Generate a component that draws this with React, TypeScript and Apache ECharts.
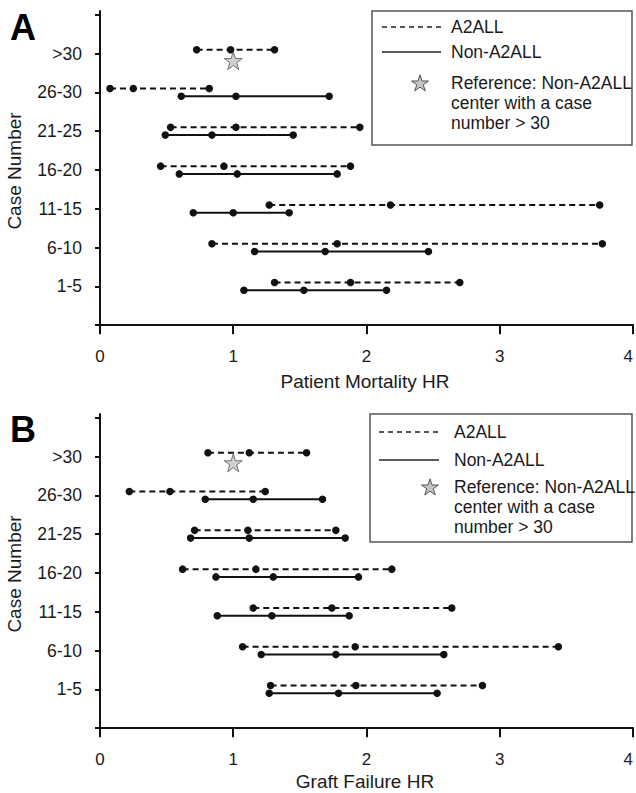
import React, { useEffect, useRef } from "react";
import * as echarts from "echarts";

const categories = ["1-5", "6-10", "11-15", "16-20", "21-25", "26-30", ">30"];
const xTicks = [0, 1, 2, 3, 4];
const yTicks = [0, 1, 2, 3, 4, 5, 6, 7, 8];

// [lower, estimate, upper] per category (1-5 ... >30)
const mortalityA2ALL: number[][] = [
  [1.31, 1.88, 2.7],
  [0.84, 1.78, 3.77],
  [1.27, 2.18, 3.75],
  [0.455, 0.93, 1.88],
  [0.53, 1.02, 1.95],
  [0.075, 0.25, 0.82],
  [0.725, 0.98, 1.31],
];
const mortalityNonA2ALL: (number[] | null)[] = [
  [1.08, 1.53, 2.15],
  [1.16, 1.69, 2.465],
  [0.7, 1.0, 1.42],
  [0.595, 1.03, 1.78],
  [0.49, 0.84, 1.45],
  [0.61, 1.02, 1.72],
  null,
];
const graftA2ALL: number[][] = [
  [1.28, 1.92, 2.87],
  [1.07, 1.915, 3.44],
  [1.15, 1.74, 2.64],
  [0.62, 1.17, 2.19],
  [0.71, 1.11, 1.77],
  [0.22, 0.525, 1.24],
  [0.81, 1.12, 1.55],
];
const graftNonA2ALL: (number[] | null)[] = [
  [1.27, 1.79, 2.53],
  [1.21, 1.77, 2.58],
  [0.88, 1.29, 1.87],
  [0.87, 1.3, 1.94],
  [0.68, 1.12, 1.84],
  [0.79, 1.15, 1.67],
  null,
];
const referenceHR = 1.0;

const FONT = "'Liberation Sans', Arial, sans-serif";
const TXT = "#1a1a1a";
const STAR_PTS: number[][] = [
  [50, 2], [61.8, 38.2], [99.9, 38.2], [69.1, 60.6], [80.9, 96.8],
  [50, 74.4], [19.1, 96.8], [30.9, 60.6], [0.1, 38.2], [38.2, 38.2],
];
const STAR_PATH =
  "path://" + STAR_PTS.map((p, i) => (i === 0 ? "M" : "L") + p[0] + " " + p[1]).join(" ") + " Z";

function starPolygon(cx: number, cy: number, size: number) {
  return {
    type: "polygon",
    shape: { points: STAR_PTS.map(([px, py]) => [cx + ((px - 50) / 100) * size, cy + ((py - 50) / 100) * size]) },
    style: { fill: "#c4c4c4", stroke: "#555", lineWidth: 1 },
  };
}

function legend(x: number, y: number, w: number, h: number, lx1: number, lx2: number, tx: number, rows: number[], starX: number, textRows: number[]) {
  const ts = { fontSize: 17.5, fontFamily: FONT, fill: TXT, verticalAlign: "middle" };
  return [
    { type: "rect", shape: { x, y, width: w, height: h }, style: { fill: "#fff", stroke: "#555", lineWidth: 1.5 } },
    { type: "line", shape: { x1: lx1, y1: rows[0], x2: lx2, y2: rows[0] }, style: { stroke: "#222", lineWidth: 1.5, lineDash: [5, 4] } },
    { type: "text", x: tx, y: rows[0], style: { ...ts, text: "A2ALL" } },
    { type: "line", shape: { x1: lx1, y1: rows[1], x2: lx2, y2: rows[1] }, style: { stroke: "#222", lineWidth: 1.5 } },
    { type: "text", x: tx, y: rows[1], style: { ...ts, text: "Non-A2ALL" } },
    starPolygon(starX, textRows[0], 17),
    { type: "text", x: tx, y: textRows[0], style: { ...ts, text: "Reference: Non-A2ALL" } },
    { type: "text", x: tx, y: textRows[1], style: { ...ts, text: "center with a case" } },
    { type: "text", x: tx, y: textRows[2], style: { ...ts, text: "number > 30" } },
  ];
}

function makeSeries(data: (number[] | null)[], offset: number, dashed: boolean, axis: number) {
  const out: any[] = [];
  data.forEach((row, i) => {
    if (!row) return;
    const y = i + 1 + offset;
    out.push({
      type: "line",
      name: (dashed ? "A2ALL " : "Non-A2ALL ") + categories[i],
      xAxisIndex: axis,
      yAxisIndex: axis,
      data: row.map((v) => [v, y]),
      symbol: "circle",
      symbolSize: 7.5,
      itemStyle: { color: "#111" },
      lineStyle: { color: "#111", width: 2, type: dashed ? [6, 4] : "solid" },
      z: 3,
    });
  });
  return out;
}

function xAxis(grid: number, name: string, gap: number) {
  return {
    type: "value",
    gridIndex: grid,
    min: -0.0225,
    max: 4,
    name,
    nameLocation: "middle",
    nameGap: gap,
    nameTextStyle: { fontSize: 19, color: TXT, fontFamily: FONT },
    axisLine: { show: true, lineStyle: { color: "#111", width: 2 } },
    axisTick: { show: true, customValues: xTicks, length: 9, lineStyle: { color: "#111", width: 2 } },
    axisLabel: { customValues: xTicks, fontSize: 17, color: TXT, fontFamily: FONT, margin: 17, alignMaxLabel: "right" },
    splitLine: { show: false },
  };
}

function yAxis(grid: number) {
  return {
    type: "value",
    gridIndex: grid,
    min: -0.15,
    max: 8.1,
    name: "Case Number",
    nameLocation: "middle",
    nameGap: 73,
    nameRotate: 90,
    nameTextStyle: { fontSize: 19, color: TXT, fontFamily: FONT },
    axisLine: { show: true, lineStyle: { color: "#111", width: 2 } },
    axisTick: { show: true, customValues: yTicks, length: 5, lineStyle: { color: "#111", width: 2 } },
    axisLabel: {
      customValues: yTicks,
      fontSize: 17.5,
      color: TXT,
      fontFamily: FONT,
      margin: 15,
      formatter: (v: number) => (v >= 1 && v <= 7 ? categories[Math.round(v) - 1] : ""),
    },
    splitLine: { show: false },
  };
}

export default function App() {
  const ref = useRef<HTMLDivElement>(null);
  useEffect(() => {
    if (!ref.current) return;
    const chart = echarts.init(ref.current, null, { renderer: "svg" });
    const option: any = {
      animation: false,
      backgroundColor: "#fff",
      grid: [
        { left: 97, top: 11, width: 536, height: 320, containLabel: false, outerBoundsMode: "none" },
        { left: 97, top: 414, width: 536, height: 320, containLabel: false, outerBoundsMode: "none" },
      ],
      xAxis: [xAxis(0, "Patient Mortality HR", 41), xAxis(1, "Graft Failure HR", 38)],
      yAxis: [yAxis(0), yAxis(1)],
      series: [
        ...makeSeries(mortalityA2ALL, 0.1, true, 0),
        ...makeSeries(mortalityNonA2ALL, -0.1, false, 0),
        ...makeSeries(graftA2ALL, 0.1, true, 1),
        ...makeSeries(graftNonA2ALL, -0.1, false, 1),
        {
          type: "scatter",
          name: "Reference A",
          xAxisIndex: 0,
          yAxisIndex: 0,
          data: [[referenceHR, 7 - 0.18]],
          symbol: STAR_PATH,
          symbolSize: 18,
          itemStyle: { color: "#c4c4c4", borderColor: "#555", borderWidth: 1 },
          z: 4,
        },
        {
          type: "scatter",
          name: "Reference B",
          xAxisIndex: 1,
          yAxisIndex: 1,
          data: [[referenceHR, 7 - 0.16]],
          symbol: STAR_PATH,
          symbolSize: 18,
          itemStyle: { color: "#c4c4c4", borderColor: "#555", borderWidth: 1 },
          z: 4,
        },
      ],
      graphic: [
        { type: "text", x: 10, y: 27, style: { text: "A", fontSize: 36, fontWeight: "bold", fontFamily: FONT, fill: "#000", verticalAlign: "middle" } },
        { type: "text", x: 10, y: 429, style: { text: "B", fontSize: 36, fontWeight: "bold", fontFamily: FONT, fill: "#000", verticalAlign: "middle" } },
        ...legend(372, 11, 260, 134, 382, 441, 451, [27, 52], 420, [83, 103, 123]),
        ...legend(370, 414, 262, 128, 379, 439, 454, [432, 460], 430, [487, 507, 527]),
      ],
    };
    chart.setOption(option);
    return () => chart.dispose();
  }, []);
  return <div ref={ref} style={{ position: "absolute", left: 0, top: 0, width: 636, height: 793 }} />;
}
